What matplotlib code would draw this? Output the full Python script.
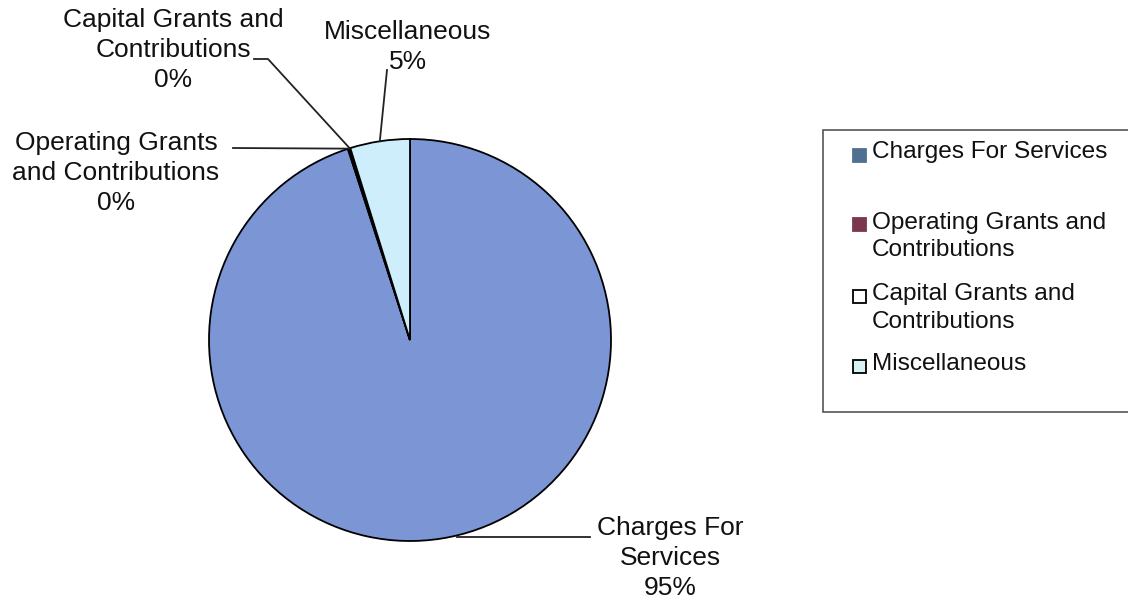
import numpy as np
import matplotlib.pyplot as plt
from matplotlib.patches import Rectangle

plt.rcParams['font.family'] = ['Liberation Sans', 'DejaVu Sans']

# revenue shares (percent)
categories = ['Charges For Services', 'Operating Grants and Contributions',
              'Capital Grants and Contributions', 'Miscellaneous']
shares = [95.0, 0.1, 0.1, 4.8]
slice_colors = ['#7b95d5', '#7b3650', '#ffffff', '#cdeefa']
legend_colors = ['#50708f', '#7b3650', '#ffffff', '#d6f2f2']

W, H = 1128, 598
fig = plt.figure(figsize=(W / 100, H / 100), dpi=100)
ax = fig.add_axes([0, 0, 1, 1])


def py(y):
    # pixel rows count downwards
    return H - y


cx, cy, r = 410, py(340), 201
wedges, _ = ax.pie(shares, colors=slice_colors, startangle=90, counterclock=False,
                   radius=r, center=(cx, cy), frame=True,
                   wedgeprops=dict(edgecolor='black', linewidth=1.3))
ax.set_xlim(0, W)
ax.set_ylim(0, H)
ax.set_aspect('equal')
ax.axis('off')

fs = 19
# label text: centre x, centre y of the block, and the points the leader runs through
labels = [
    ('Charges For\nServices\n{:.0f}%', 670, 558, [(590, 537), (457, 537)]),
    ('Operating Grants\nand Contributions\n{:.0f}%', 116, 173, [(233, 148)]),
    ('Capital Grants and\nContributions\n{:.0f}%', 173, 50, [(254, 59), (268, 59)]),
    ('Miscellaneous\n{:.0f}%', 408, 47, [(387, 70)]),
]
for w, val, (txt, tx, ty, pts) in zip(wedges, shares, labels):
    ax.text(tx, py(ty), txt.format(val), ha='center', va='center', fontsize=fs,
            linespacing=1.32, color='#111111')
    mid = np.deg2rad((w.theta1 + w.theta2) / 2)
    ex, ey = cx + r * np.cos(mid), cy + r * np.sin(mid)
    if len(pts) == 2 and pts[0][1] == pts[1][1] and val > 50:
        # large slice: leader stays level and ends on the rim
        xs = [p[0] for p in pts]
        ys = [py(p[1]) for p in pts]
    else:
        xs = [p[0] for p in pts] + [ex]
        ys = [py(p[1]) for p in pts] + [ey]
    ax.plot(xs, ys, color='#222222', linewidth=1.3)

# legend box
ax.add_patch(Rectangle((823, py(412)), 320, 282, facecolor='white',
                       edgecolor='#555555', linewidth=1.2, clip_on=False))
text_rows = [152, 236.5, 308, 364]
swatch_rows = [155, 224, 296, 366]
for i, (name, col) in enumerate(zip(categories, legend_colors)):
    edge = col if i < 2 else 'black'
    ax.add_patch(Rectangle((853, py(swatch_rows[i]) - 7), 13, 13, facecolor=col,
                           edgecolor=edge, linewidth=1.3))
    wrapped = name.replace(' and Contributions', ' and\nContributions')
    ax.text(872, py(text_rows[i]), wrapped, ha='left', va='center', fontsize=17.6,
            linespacing=1.35, color='#111111')

fig.savefig('out.png', dpi=100, facecolor='white')
